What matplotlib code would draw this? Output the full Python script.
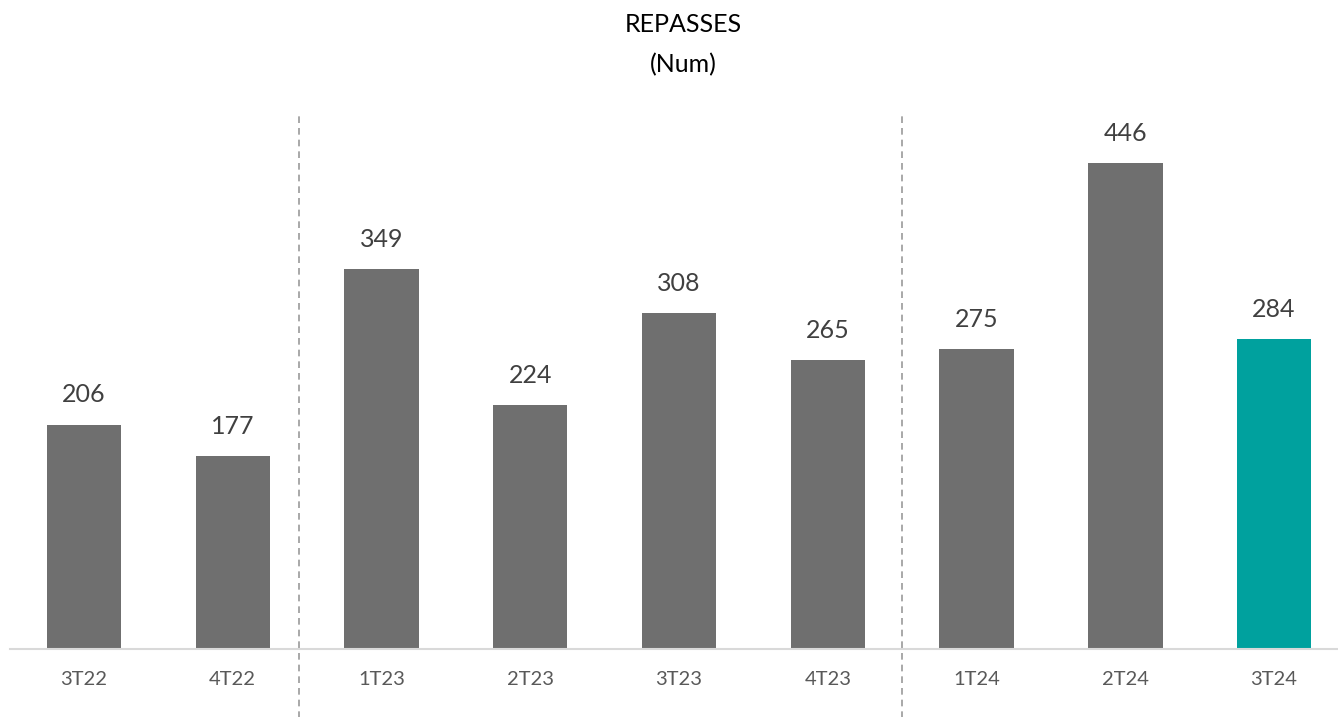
import numpy as np
import matplotlib.pyplot as plt

# data
quarters = ['3T22', '4T22', '1T23', '2T23', '3T23', '4T23', '1T24', '2T24', '3T24']
repasses = [206, 177, 349, 224, 308, 265, 275, 446, 284]
colors = ['#6f6f6f'] * 8 + ['#00a19e']
separators = [1.445, 5.50]

plt.rcParams['font.family'] = ['Lato', 'DejaVu Sans']

fig = plt.figure(figsize=(13.38, 7.17), dpi=100)
ax = fig.add_axes([9.6 / 1338, 68 / 717, 1327 / 1338, 534 / 717])

x = np.arange(len(quarters))
bars = ax.bar(x, repasses, width=0.5, color=colors, zorder=2)

for b, v in zip(bars, repasses):
    ax.annotate(str(v), (b.get_x() + b.get_width() / 2, v),
                xytext=(0, 13), textcoords='offset points',
                ha='center', va='bottom', fontsize=18, color='#404040')

# dashed separators, running below the axis
for s in separators:
    ax.plot([s, s], [-63, 490], ls=(0, (4, 3)), color='#9a9a9a', lw=1.2,
            clip_on=False, zorder=1)

ax.set_xlim(-0.5, 8.42)
ax.set_ylim(0, 490)
ax.set_xticks(x)
ax.set_xticklabels(quarters, fontsize=14.5, color='#595959')
ax.tick_params(axis='x', length=0, pad=16)
ax.set_yticks([])
for sp in ['top', 'right', 'left']:
    ax.spines[sp].set_visible(False)
ax.spines['bottom'].set_color('#d9d9d9')
ax.spines['bottom'].set_linewidth(1.5)

fig.text(683 / 1338, 1 - 25 / 717, 'REPASSES', ha='center', va='center',
         fontsize=18, color='#000000')
fig.text(683 / 1338, 1 - 65 / 717, '(Num)', ha='center', va='center',
         fontsize=18, color='#000000')

fig.savefig('out.png', dpi=100)
